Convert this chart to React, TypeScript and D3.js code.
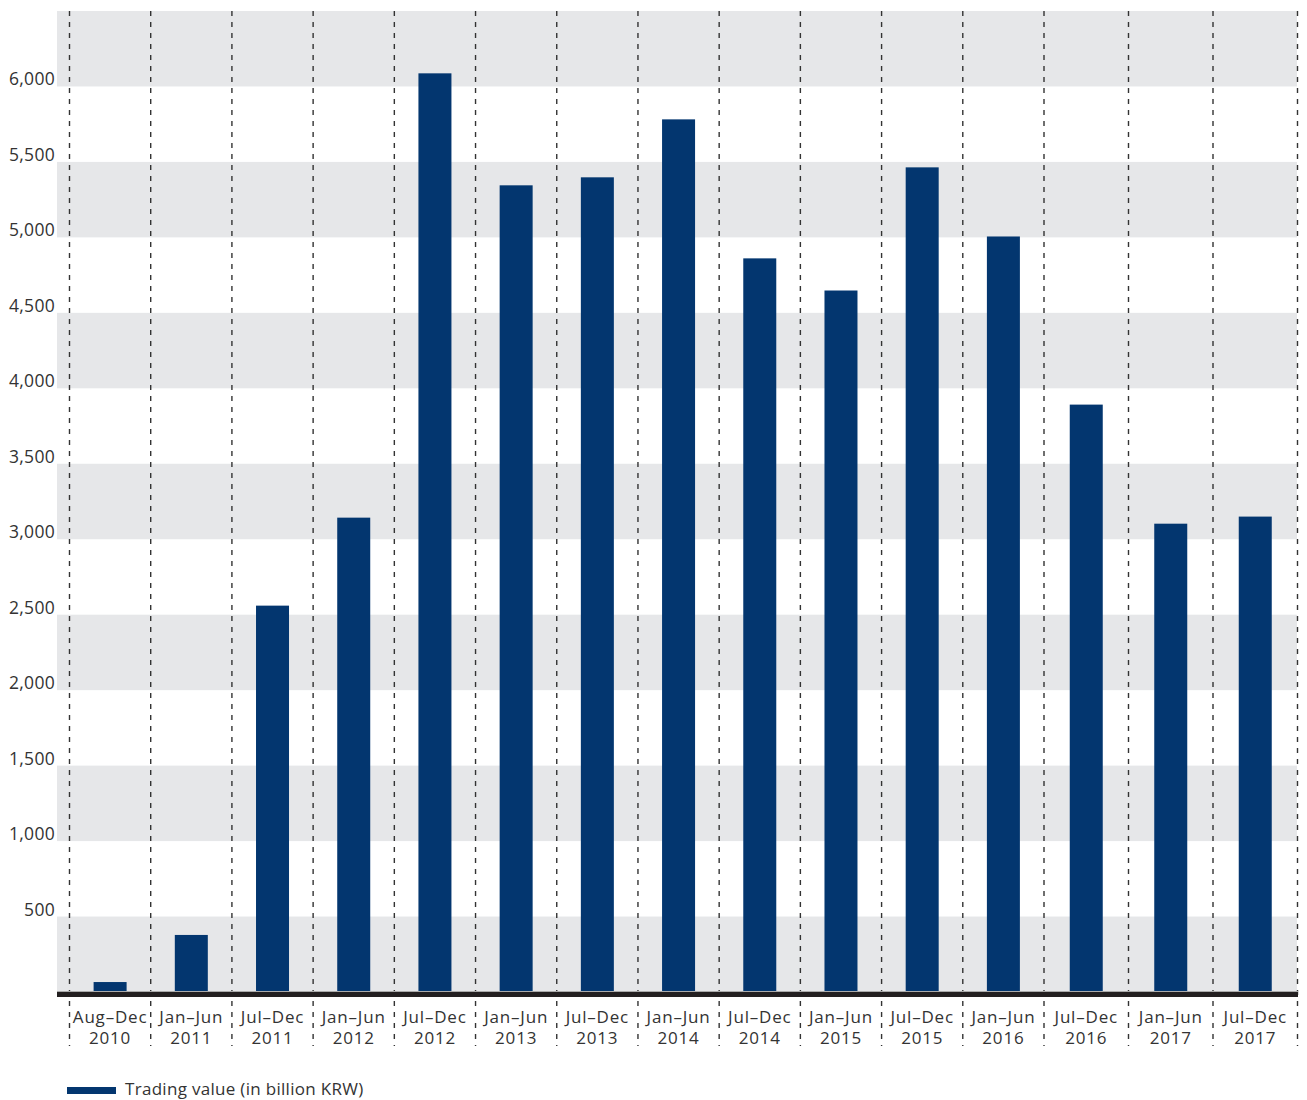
import React from 'react';
import * as d3 from 'd3';

const periods = [
  'Aug–Dec', 'Jan–Jun', 'Jul–Dec', 'Jan–Jun', 'Jul–Dec', 'Jan–Jun', 'Jul–Dec', 'Jan–Jun',
  'Jul–Dec', 'Jan–Jun', 'Jul–Dec', 'Jan–Jun', 'Jul–Dec', 'Jan–Jun', 'Jul–Dec',
];
const years = [
  '2010', '2011', '2011', '2012', '2012', '2013', '2013', '2014',
  '2014', '2015', '2015', '2016', '2016', '2017', '2017',
];
const tradingValue = [
  66, 378, 2560, 3143, 6087, 5345, 5398, 5782,
  4861, 4648, 5464, 5006, 3892, 3103, 3150,
];
const yTicks = [500, 1000, 1500, 2000, 2500, 3000, 3500, 4000, 4500, 5000, 5500, 6000];
const bandStarts = [0, 1000, 2000, 3000, 4000, 5000, 6000];
const legendLabel = 'Trading value (in billion KRW)';

const W = 1307;
const H = 1100;
const plotLeft = 57;
const plotRight = 1298;
const font = '"Open Sans", "DejaVu Sans", sans-serif';
const barColor = '#03366f';
const textColor = '#333333';

export default function App() {
  const y = d3.scaleLinear().domain([0, 6500]).range([992, 11]);
  // slot boundaries: the source spaces the last three periods a little wider
  const x = d3.scaleLinear().domain([0, 12, 15]).range([69.5, 1044, 1297.5]);
  const barW = 33;

  return (
    <svg width={W} height={H} style={{ position: 'absolute', left: 0, top: 0 }} fontFamily={font}>
      <rect x={0} y={0} width={W} height={H} fill="#ffffff" />

      {/* alternating bands */}
      {bandStarts.map(b => (
        <rect key={b} x={plotLeft} width={plotRight - plotLeft - 1}
          y={y(b + 500)} height={y(b) - y(b + 500)} fill="#e6e7e9" />
      ))}

      {/* y tick labels */}
      {yTicks.map(t => (
        <text key={t} x={55} y={y(t) - 1} textAnchor="end" fontSize={17.5}
          letterSpacing={0.3} fill={textColor}>
          {d3.format(',')(t)}
        </text>
      ))}

      {/* bars */}
      {tradingValue.map((v, i) => (
        <rect key={i} x={x(i + 0.5) - barW / 2} width={barW}
          y={y(v)} height={y(0) - y(v)} fill={barColor} />
      ))}

      {/* dashed slot separators */}
      {d3.range(0, periods.length + 1).map(i => (
        <line key={i} x1={x(i)} x2={x(i)} y1={11} y2={1046}
          stroke="#333333" strokeWidth={1.4} strokeDasharray="5,6" />
      ))}

      {/* baseline */}
      <line x1={plotLeft} x2={plotRight} y1={991.5} y2={991.5} stroke="#aaaaaa" strokeWidth={1} />
      <line x1={plotLeft} x2={plotRight} y1={994.5} y2={994.5} stroke="#231f20" strokeWidth={5} />

      {/* x labels */}
      {periods.map((p, i) => (
        <text key={i} x={x(i + 0.5)} textAnchor="middle" fontSize={17}
          letterSpacing={0.8} fill={textColor}>
          <tspan x={x(i + 0.5)} y={1023}>{p}</tspan>
          <tspan x={x(i + 0.5)} y={1044}>{years[i]}</tspan>
        </text>
      ))}

      {/* legend */}
      <rect x={67} y={1087} width={49} height={7} fill={barColor} />
      <text x={125} y={1095} fontSize={17} letterSpacing={0.3} fill={textColor}>{legendLabel}</text>
    </svg>
  );
}
